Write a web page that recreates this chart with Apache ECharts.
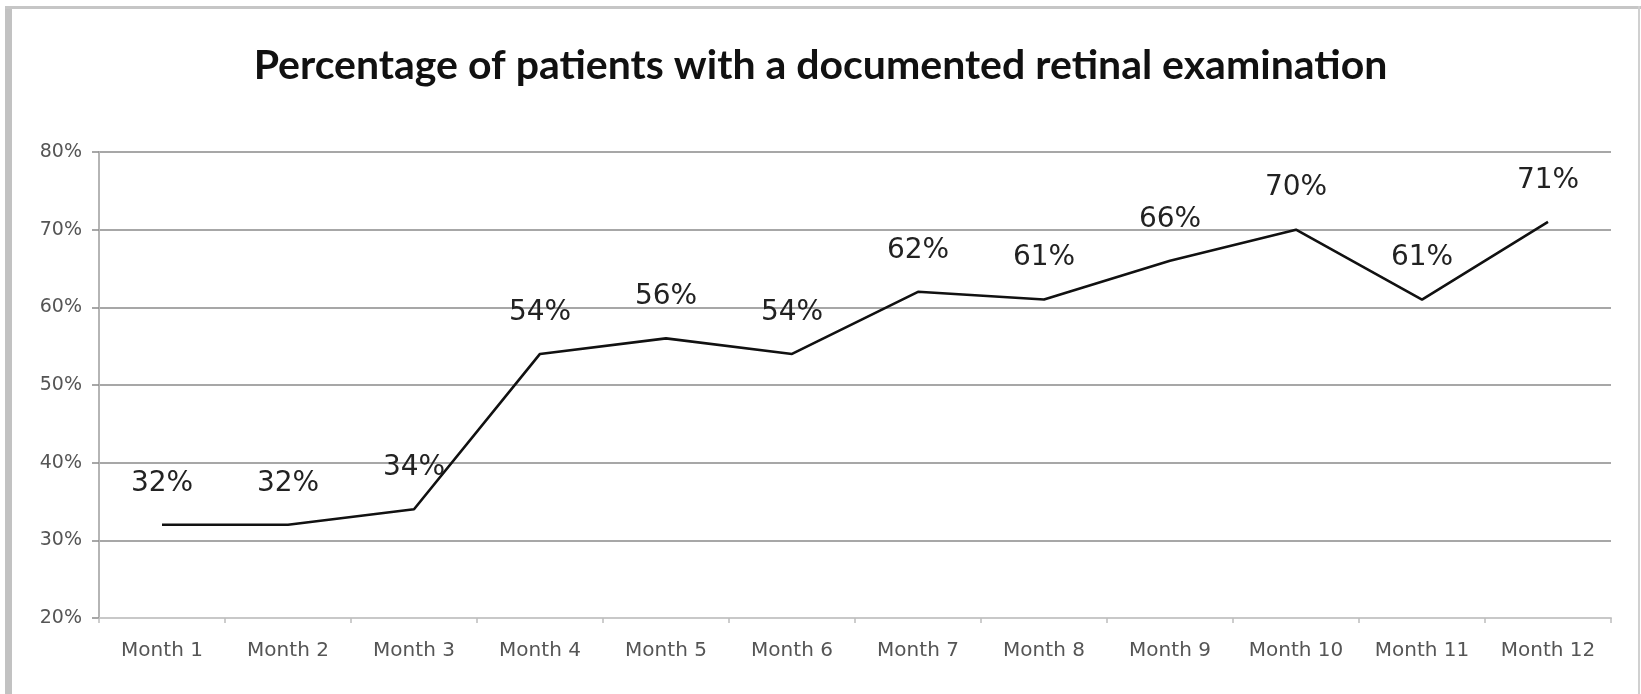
<!DOCTYPE html>
<html>
<head>
<meta charset="utf-8">
<title>Retinal examination rate</title>
<script src="https://cdn.jsdelivr.net/npm/echarts@6/dist/echarts.min.js"></script>
<style>
  html, body { margin: 0; padding: 0; background: #ffffff; }
  #chart { width: 1641px; height: 694px; }
</style>
</head>
<body>
<div id="chart"></div>
<script>
// Monthly share of patients with a documented retinal examination (%)
const months = ['Month 1', 'Month 2', 'Month 3', 'Month 4', 'Month 5', 'Month 6',
                'Month 7', 'Month 8', 'Month 9', 'Month 10', 'Month 11', 'Month 12'];
const examinedPct = [32, 32, 34, 54, 56, 54, 62, 61, 66, 70, 61, 71];
const yTicks = [20, 30, 40, 50, 60, 70, 80];

const chart = echarts.init(document.getElementById('chart'), null, { renderer: 'canvas' });

chart.setOption({
  backgroundColor: '#ffffff',
  animation: false,
  title: {
    text: 'Percentage of patients with a documented retinal examination',
    left: 'center',
    top: 40,
    textStyle: {
      fontFamily: 'Lato',
      fontWeight: 'bold',
      fontSize: 41,
      color: '#111111'
    }
  },
  graphic: [
    // outer chart frame
    { type: 'rect', shape: { x: 5, y: 6, width: 7, height: 700 }, style: { fill: '#c2c2c2' }, silent: true },
    { type: 'rect', shape: { x: 5, y: 6, width: 1636, height: 3 }, style: { fill: '#c6c6c6' }, silent: true },
    { type: 'rect', shape: { x: 1638, y: 6, width: 2, height: 700 }, style: { fill: '#d0d0d0' }, silent: true }
  ],
  grid: { left: 99, right: 30, top: 152, bottom: 76, containLabel: false },
  xAxis: {
    type: 'category',
    data: months,
    boundaryGap: true,
    axisLine: { show: true, lineStyle: { color: '#c8c8c8', width: 2 } },
    axisTick: { show: true, length: 5, lineStyle: { color: '#bdbdbd', width: 1.5 } },
    axisLabel: {
      margin: 23,
      fontFamily: 'DejaVu Sans',
      fontSize: 20,
      color: '#555555'
    },
    splitLine: { show: false }
  },
  yAxis: {
    type: 'value',
    min: yTicks[0],
    max: yTicks[yTicks.length - 1],
    interval: yTicks[1] - yTicks[0],
    axisLine: { show: true, lineStyle: { color: '#b5b5b5', width: 2 } },
    axisTick: { show: true, length: 7, lineStyle: { color: '#8a8a8a', width: 1.5 } },
    axisLabel: {
      margin: 17,
      fontFamily: 'DejaVu Sans',
      fontSize: 19,
      color: '#555555',
      formatter: '{value}%'
    },
    splitLine: { show: true, lineStyle: { color: '#8a8a8a', width: 1.6 } }
  },
  series: [{
    type: 'line',
    data: examinedPct,
    showSymbol: true,
    symbol: 'circle',
    symbolSize: 1,
    itemStyle: { color: '#111111', opacity: 0 },
    lineStyle: { color: '#111111', width: 2.6, opacity: 1 },
    label: {
      show: true,
      position: 'top',
      distance: 27,
      fontFamily: 'DejaVu Sans',
      fontSize: 28,
      color: '#222222',
      opacity: 1,
      formatter: p => p.value + '%'
    },
    labelLayout: { hideOverlap: false }
  }]
});
</script>
</body>
</html>
